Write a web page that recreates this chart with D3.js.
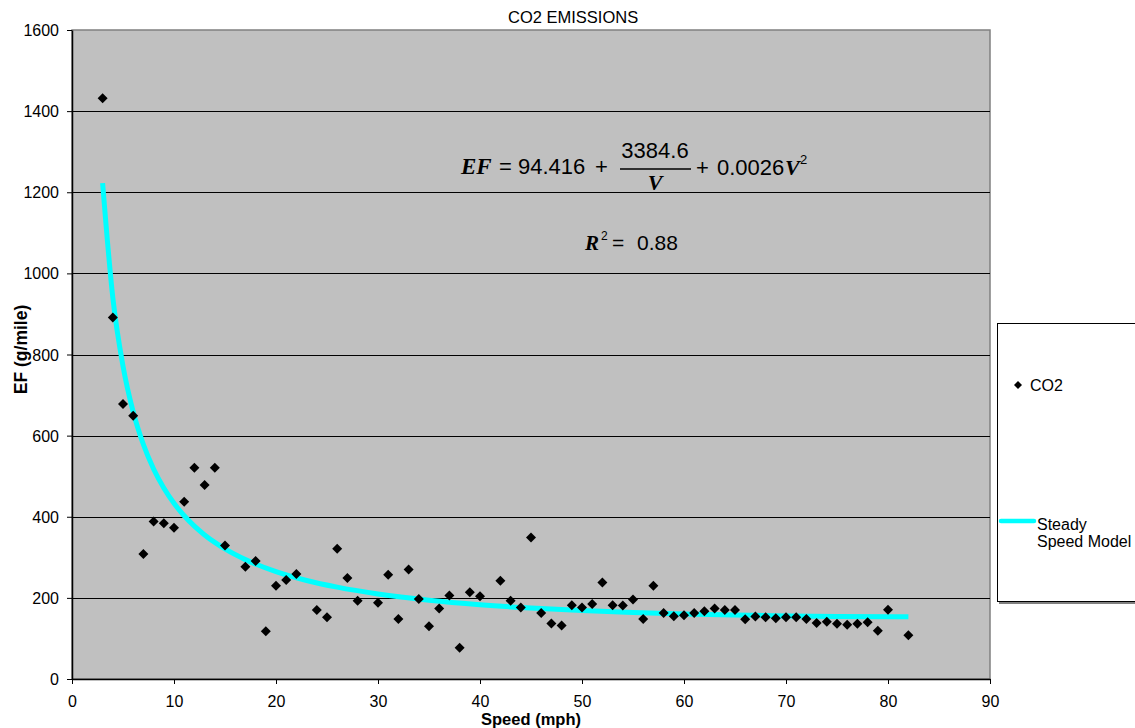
<!DOCTYPE html>
<html>
<head>
<meta charset="utf-8">
<script src="https://cdn.jsdelivr.net/npm/d3@7"></script>
<style>
  body { margin: 0; background: #fff; }
  svg { display: block; font-family: Arial, "Liberation Sans", sans-serif; }
</style>
</head>
<body>
<div id="chart"></div>
<script>
// CO2 emission factor vs speed, with steady speed model curve

const speeds = [3,4,5,6,7,8,9,10,11,12,13,14,15,17,18,19,20,21,22,24,25,26,27,28,30,31,32,33,34,35,36,37,38,39,40,
  42,43,44,45,46,47,48,49,50,51,52,53,54,55,56,57,58,59,60,61,62,63,64,65,66,67,68,69,70,71,72,73,74,75,76,77,78,79,80,82];
const co2 = [1432,891,678,649,308,388,384,373,437,521,478,521,329,277,291,118,230,244,259,170,152,321,249,193,188,257,148,270,197,130,174,206,77,214,204,
  242,193,176,349,163,137,132,182,176,185,238,182,181,196,148,230,163,155,157,163,167,174,170,170,147,154,152,150,152,152,148,138,141,136,134,136,140,119,171,108];

const modelSpeeds = [3,4,5,6,7,8,9,10,11,12,13,14,15,17,20,23,26,30,35,40,45,50,55,60,65,70,75,82];
const modelValues = [1222.6,940.6,771.4,658.6,578.1,517.7,470.7,433.1,402.4,376.8,355.2,336.7,320.6,294.3,264.7,242.9,226.4,209.6,194.3,183.2,174.9,168.6,163.8,160.2,157.5,155.5,154.2,153.2];

const xTicks = [0,10,20,30,40,50,60,70,80,90];
const yTicks = [0,200,400,600,800,1000,1200,1400,1600];

const width = 1135, height = 728;
const margin = { top: 30, right: 145, bottom: 49, left: 72 };

const svg = d3.select('#chart').append('svg')
  .attr('width', width)
  .attr('height', height);

const x = d3.scaleLinear().domain([0, 90]).range([margin.left, width - margin.right]);
const y = d3.scaleLinear().domain([0, 1600]).range([height - margin.bottom, margin.top]);

// Plot area
svg.append('rect')
  .attr('x', x(0))
  .attr('y', y(1600))
  .attr('width', x(90) - x(0))
  .attr('height', y(0) - y(1600))
  .attr('fill', '#c0c0c0')
  .attr('stroke', '#808080')
  .attr('stroke-width', 1.5);

// Gridlines
svg.append('g')
  .selectAll('line')
  .data(yTicks.filter(d => d > 0 && d < 1600))
  .enter()
  .append('line')
  .attr('x1', x(0))
  .attr('x2', x(90))
  .attr('y1', d => Math.round(y(d)) + 0.5)
  .attr('y2', d => Math.round(y(d)) + 0.5)
  .attr('stroke', '#000')
  .attr('stroke-width', 1);

// Axes
const xAxis = svg.append('g')
  .attr('transform', `translate(0,${y(0)})`)
  .call(d3.axisBottom(x).tickValues(xTicks).tickSize(5).tickSizeOuter(0).tickFormat(d3.format('d')));
const yAxis = svg.append('g')
  .attr('transform', `translate(${x(0)},0)`)
  .call(d3.axisLeft(y).tickValues(yTicks).tickSize(5).tickSizeOuter(0).tickFormat(d3.format('d')));

[xAxis, yAxis].forEach(a => {
  a.select('.domain').attr('stroke', '#000').attr('stroke-width', 1.5);
  a.selectAll('.tick line').attr('stroke', '#000');
  a.selectAll('text')
    .attr('fill', '#000')
    .attr('font-size', '16px')
    .attr('font-family', 'Arial, "Liberation Sans", sans-serif');
});
xAxis.selectAll('text').attr('y', 0).attr('dy', 0).attr('transform', 'translate(0,28)');
yAxis.selectAll('text').attr('x', -13).attr('dy', '0.35em');

// Model curve
const line = d3.line()
  .x(d => x(d[0]))
  .y(d => y(d[1]))
  .curve(d3.curveMonotoneX);
svg.append('path')
  .datum(modelSpeeds.map((s, i) => [s, modelValues[i]]))
  .attr('d', line)
  .attr('fill', 'none')
  .attr('stroke', '#00ffff')
  .attr('stroke-width', 5);

// CO2 points
const diamond = d3.symbol().type(d3.symbolSquare).size(50);
svg.append('g')
  .selectAll('path')
  .data(speeds.map((s, i) => [s, co2[i]]))
  .enter()
  .append('path')
  .attr('d', diamond)
  .attr('transform', d => `translate(${x(d[0])},${y(d[1])}) rotate(45)`)
  .attr('fill', '#000');

// Title and axis labels
svg.append('text')
  .attr('x', 508)
  .attr('y', 23)
  .attr('font-size', '16.5px')
  .text('CO2 EMISSIONS');

svg.append('text')
  .attr('x', (x(0) + x(90)) / 2)
  .attr('y', 725)
  .attr('text-anchor', 'middle')
  .attr('font-size', '16.5px')
  .attr('font-weight', 'bold')
  .text('Speed (mph)');

svg.append('text')
  .attr('transform', `translate(27,${(y(0) + y(1600)) / 2 - 5}) rotate(-90)`)
  .attr('text-anchor', 'middle')
  .attr('font-size', '17.5px')
  .attr('font-weight', 'bold')
  .text('EF (g/mile)');

// Equation
const serif = '"Liberation Serif", "Times New Roman", serif';
const eq = svg.append('g').attr('font-size', '22px');
eq.append('text').attr('x', 461).attr('y', 174)
  .attr('font-family', serif).attr('font-style', 'italic').attr('font-weight', 'bold')
  .attr('font-size', '23px')
  .text('EF');
eq.append('text').attr('x', 499).attr('y', 174).text('= 94.416');
eq.append('text').attr('x', 595).attr('y', 174).text('+');
eq.append('text').attr('x', 655).attr('y', 158).attr('text-anchor', 'middle').text('3384.6');
eq.append('line').attr('x1', 620).attr('x2', 691).attr('y1', 169).attr('y2', 169)
  .attr('stroke', '#000').attr('stroke-width', 1.3);
eq.append('text').attr('x', 655).attr('y', 190).attr('text-anchor', 'middle')
  .attr('font-family', serif).attr('font-style', 'italic').attr('font-weight', 'bold')
  .text('V');
eq.append('text').attr('x', 696).attr('y', 175).text('+');
eq.append('text').attr('x', 717).attr('y', 175).text('0.0026');
eq.append('text').attr('x', 785).attr('y', 175)
  .attr('font-family', serif).attr('font-style', 'italic').attr('font-weight', 'bold')
  .text('V');
eq.append('text').attr('x', 800).attr('y', 164).attr('font-size', '13px').text('2');

const r2 = svg.append('g').attr('font-size', '21px');
r2.append('text').attr('x', 585).attr('y', 250)
  .attr('font-family', serif).attr('font-style', 'italic').attr('font-weight', 'bold')
  .text('R');
r2.append('text').attr('x', 601).attr('y', 240).attr('font-size', '12px').text('2');
r2.append('text').attr('x', 612).attr('y', 250).text('=');
r2.append('text').attr('x', 637).attr('y', 250).text('0.88');

// Legend
const legend = svg.append('g');
legend.append('rect')
  .attr('x', 999).attr('y', 325).attr('width', 160).attr('height', 279)
  .attr('fill', '#808080');
legend.append('rect')
  .attr('x', 997.5).attr('y', 323.5).attr('width', 160).attr('height', 278)
  .attr('fill', '#fff').attr('stroke', '#000').attr('stroke-width', 1);
legend.append('path')
  .attr('d', d3.symbol().type(d3.symbolSquare).size(32))
  .attr('transform', 'translate(1018,385) rotate(45)')
  .attr('fill', '#000');
legend.append('text').attr('x', 1030).attr('y', 391).attr('font-size', '16px').text('CO2');
legend.append('line')
  .attr('x1', 1001).attr('x2', 1034).attr('y1', 521).attr('y2', 521)
  .attr('stroke', '#00ffff').attr('stroke-width', 4.5).attr('stroke-linecap', 'round');
legend.append('text').attr('x', 1037).attr('y', 530).attr('font-size', '16px').text('Steady');
legend.append('text').attr('x', 1037).attr('y', 547).attr('font-size', '16px').text('Speed Model');
</script>
</body>
</html>
